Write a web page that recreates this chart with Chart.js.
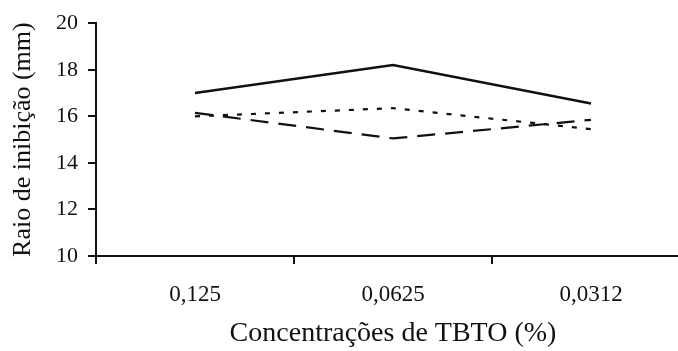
<!DOCTYPE html>
<html>
<head>
<meta charset="utf-8">
<script src="https://cdn.jsdelivr.net/npm/chart.js@4"></script>
<style>
html,body{margin:0;padding:0;background:#fff;overflow:hidden;}
#wrap{position:relative;width:692px;height:351px;}
</style>
</head>
<body>
<div id="wrap"><canvas id="c"></canvas></div>
<script>
const categories = ['0,125', '0,0625', '0,0312'];
const seriesSolid = [17.0, 18.2, 16.55];
const seriesDotted = [16.0, 16.35, 15.45];
const seriesDashed = [16.15, 15.05, 15.85];
const yTicks = [10, 12, 14, 16, 18, 20];
const xTitle = 'Concentrações de TBTO (%)';
const yTitle = 'Raio de inibição (mm)';

const ink = '#111';
const serif = '"Liberation Serif", "Times New Roman", serif';

new Chart(document.getElementById('c'), {
  type: 'line',
  data: {
    labels: categories,
    datasets: [
      { data: seriesSolid, borderColor: ink, borderWidth: 2.5, pointRadius: 0, tension: 0 },
      { data: seriesDotted, borderColor: ink, borderWidth: 2.2, borderDash: [5, 9], pointRadius: 0, tension: 0 },
      { data: seriesDashed, borderColor: ink, borderWidth: 2.2, borderDash: [18, 10], pointRadius: 0, tension: 0 }
    ]
  },
  options: {
    responsive: true,
    maintainAspectRatio: false,
    animation: false,
    layout: { padding: { top: 23, right: 2, left: 0, bottom: 0 } },
    plugins: { legend: { display: false }, tooltip: { enabled: false } },
    scales: {
      x: {
        type: 'category',
        offset: true,
        grid: { offset: true, drawOnChartArea: false, drawTicks: true, tickLength: 8, color: ink, lineWidth: 2 },
        border: { display: true, color: ink, width: 2 },
        ticks: { color: ink, font: { family: serif, size: 23 }, padding: 17, maxRotation: 0 },
        title: { display: true, text: xTitle, color: ink, font: { family: serif, size: 28 }, padding: { top: 0, bottom: 1 } },
        afterFit: (s) => { s.height = 95; }
      },
      y: {
        min: 10, max: 20,
        afterBuildTicks: (s) => { s.ticks = yTicks.map(v => ({ value: v })); },
        grid: { drawOnChartArea: false, drawTicks: true, tickLength: 8, color: ink, lineWidth: 2 },
        border: { display: true, color: ink, width: 2 },
        ticks: { color: ink, font: { family: serif, size: 22 }, padding: 10 },
        title: { display: true, text: yTitle, color: ink, font: { family: serif, size: 26 }, padding: { top: 8, bottom: 0 } },
        afterFit: (s) => { s.width = 96; }
      }
    }
  }
});
</script>
</body>
</html>
